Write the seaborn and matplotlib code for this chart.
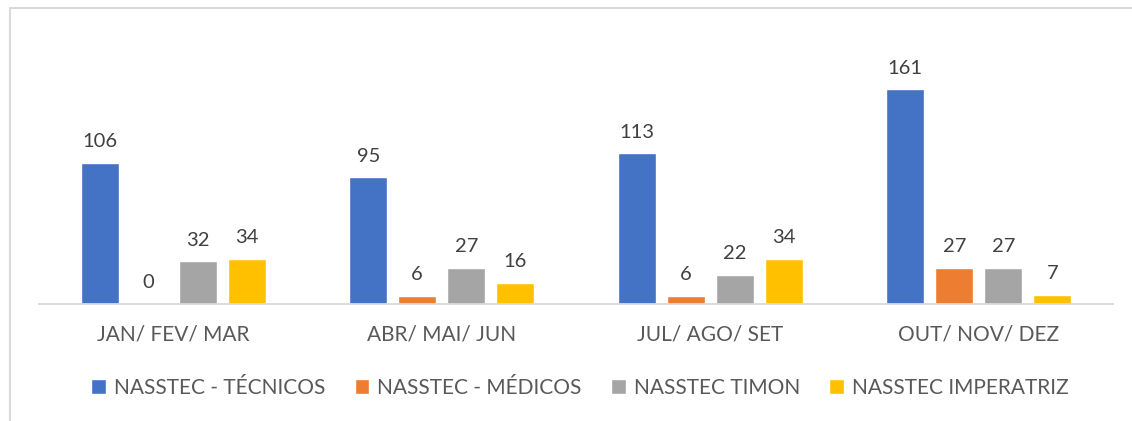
import matplotlib
matplotlib.use("Agg")
import matplotlib.pyplot as plt
from matplotlib.lines import Line2D
import seaborn as sns
import pandas as pd

periods = ["JAN/ FEV/ MAR", "ABR/ MAI/ JUN", "JUL/ AGO/ SET", "OUT/ NOV/ DEZ"]
series = ["NASSTEC - TÉCNICOS", "NASSTEC - MÉDICOS", "NASSTEC TIMON", "NASSTEC IMPERATRIZ"]
tecnicos = [106, 95, 113, 161]
medicos = [0, 6, 6, 27]
timon = [32, 27, 22, 27]
imperatriz = [34, 16, 34, 7]
colors = ["#4472C4", "#ED7D31", "#A5A5A5", "#FFC000"]

rows = []
for name, vals in zip(series, [tecnicos, medicos, timon, imperatriz]):
    for p, v in zip(periods, vals):
        rows.append({"periodo": p, "serie": name, "valor": v})
df = pd.DataFrame(rows)

sns.set_theme(style="white")
plt.rcParams["font.family"] = ["Lato", "DejaVu Sans"]

fig = plt.figure(figsize=(11.32, 4.21), dpi=100)
ax = fig.add_axes([39 / 1132, 1 - 304 / 421, (1113 - 39) / 1132, 240 / 421])

sns.barplot(data=df, x="periodo", y="valor", hue="serie", order=periods,
            hue_order=series, palette=colors, width=0.73, gap=0.22,
            saturation=1, ax=ax, legend=True)

ax.set_ylim(0, 180)
ax.set_xlim(-0.5, 3.5)

for cont in ax.containers:
    ax.bar_label(cont, fmt="%d", padding=9, fontsize=14.5, color="#404040", clip_on=False)

# axes styling
for s in ["top", "right", "left"]:
    ax.spines[s].set_visible(False)
ax.spines["bottom"].set_color("#D9D9D9")
ax.spines["bottom"].set_linewidth(1.3)
ax.set_yticks([])
ax.set_xlabel("")
ax.set_ylabel("")
ax.tick_params(axis="x", length=0, pad=15, labelsize=15, labelcolor="#595959")

# legend below
handles, labels = ax.get_legend_handles_labels()
ax.get_legend().remove()
fig.legend(handles, labels, loc="center", bbox_to_anchor=(580 / 1132, 1 - 388 / 421),
           ncol=4, frameon=False, fontsize=15, handlelength=0.7, handleheight=0.7,
           handletextpad=0.4, columnspacing=1.4, labelcolor="#595959")

# chart frame (partially cropped)
frame_col = "#D9D9D9"
fig.add_artist(Line2D([10 / 1132, 10 / 1132], [1 - 8 / 421, -0.05], transform=fig.transFigure,
                      color=frame_col, linewidth=1.5))
fig.add_artist(Line2D([10 / 1132, 1.05], [1 - 8 / 421, 1 - 8 / 421], transform=fig.transFigure,
                      color=frame_col, linewidth=1.5))

fig.savefig("out.png", dpi=100, facecolor="white")
